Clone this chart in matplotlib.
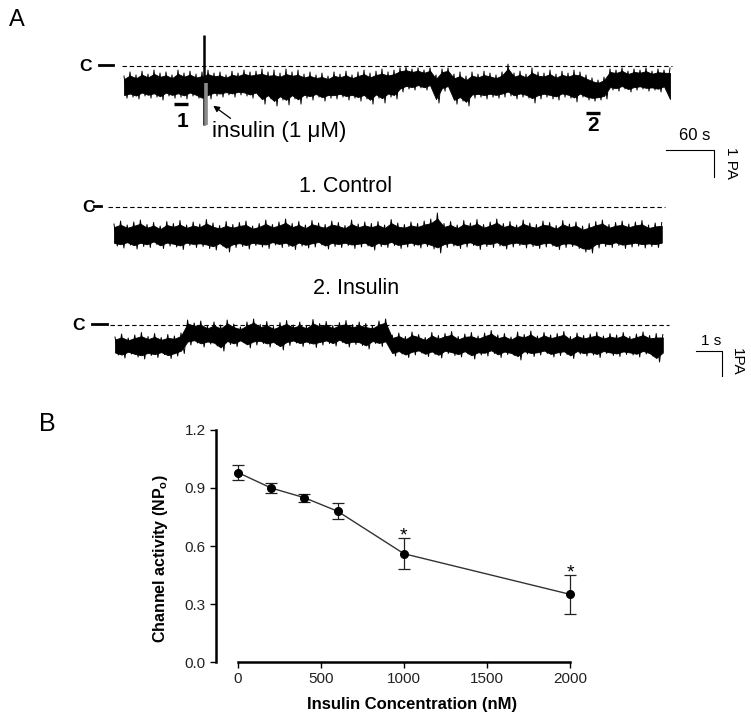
import numpy as np
import matplotlib
matplotlib.use("Agg")
import matplotlib.pyplot as plt

plt.rcParams['font.family'] = ['Liberation Sans', 'DejaVu Sans']
plt.rcParams['mathtext.fontset'] = 'custom'
plt.rcParams['mathtext.rm'] = 'Liberation Sans'
plt.rcParams['mathtext.bf'] = 'Liberation Sans:bold'

# ---- panel A: single channel records (pA, closed level = 0), envelope
# top record, one sample every 7.5 s: upper / lower edge of the trace
long_dt = 7.5
long_hi = [-0.37, -0.22, -0.33, -0.19, -0.30, -0.15, -0.26, -0.22, -0.33, -0.15, -0.26, -0.19, -0.30,
           -0.22, -0.15, -0.26, -0.22, -0.33, -0.19, -0.26, -0.15, -0.22, -0.19,
           -0.11, -0.22, -0.15, -0.26, -0.11, -0.22, -0.15,
           -0.30, -0.22, -0.33, -0.26, -0.37, -0.22, -0.30, -0.19, -0.33, -0.22, -0.15, -0.26, -0.19, -0.11, -0.22, -0.15,
           -0.07, -0.04, -0.11, -0.07,
           -0.15, -0.07, -0.33, -0.11, -0.07,
           -0.30, -0.22, -0.37, -0.22, -0.30, -0.19, -0.26, -0.33, -0.22,
           0.07,
           -0.26, -0.19, -0.30, -0.07, -0.22, -0.26, -0.15, -0.30, -0.19, -0.26, -0.15, -0.22, -0.33,
           -0.44, -0.52, -0.41,
           -0.11, -0.15, -0.07, -0.19, -0.11, -0.15, -0.07, -0.19, -0.11, -0.15, -0.07]
long_lo = [-1.19, -1.15, -1.22, -1.11, -1.19, -1.15, -1.26, -1.11, -1.19, -1.15, -1.22, -1.11, -1.19,
           -1.33, -1.22, -1.11, -1.15, -1.07, -1.15, -1.07, -1.11, -1.19, -1.11,
           -1.41, -1.22, -1.48, -1.26, -1.44, -1.22, -1.41,
           -1.19, -1.26, -1.15, -1.30, -1.19, -1.22, -1.15, -1.26, -1.19, -1.30, -1.22, -1.41, -1.19, -1.37, -1.15, -1.22,
           -0.96, -0.85, -0.89, -0.81,
           -0.89, -0.81, -1.37, -0.93, -0.85,
           -1.41, -1.30, -1.48, -1.19, -1.15, -1.22, -1.15, -1.19, -1.15,
           -1.11,
           -1.22, -1.15, -1.19, -1.37, -1.22, -1.15, -1.22, -1.26, -1.15, -1.19, -1.33, -1.15, -1.26,
           -1.30, -1.26, -1.22,
           -0.89, -0.93, -0.85, -0.96, -0.89, -0.85, -0.93, -0.89, -0.96, -0.85, -1.41]
insulin_t = 100.0          # s, application artefact
artefact = (1.15, -2.19)
artefact_wash = (-0.63, -2.19)

# expanded records, one sample every 0.25 s
short_dt = 0.25
ctrl_hi = [-0.68, -0.56, -0.72, -0.60, -0.52, -0.70, -0.62, -0.76, -0.58, -0.66,
           -0.54, -0.72, -0.60, -0.68, -0.50, -0.64, -0.74, -0.58, -0.70, -0.62,
           -0.56, -0.76, -0.66, -0.52, -0.70, -0.60, -0.48, -0.66, -0.58, -0.72,
           -0.54, -0.64, -0.70, -0.56, -0.62, -0.74, -0.52, -0.68, -0.60, -0.66,
           -0.58, -0.72, -0.50, -0.64, -0.70, -0.60, -0.66, -0.56, -0.48, -0.24,
           -0.66, -0.58, -0.72, -0.54, -0.64, -0.50, -0.70, -0.60, -0.48, -0.66,
           -0.58, -0.72, -0.52, -0.64, -0.70, -0.56, -0.62, -0.74, -0.54, -0.68,
           -0.60, -0.76, -0.66, -0.58, -0.52, -0.70, -0.62, -0.56, -0.68, -0.60,
           -0.54, -0.72, -0.64, -0.62]
ctrl_lo = [-1.56, -1.64, -1.52, -1.68, -1.58, -1.62, -1.50, -1.66, -1.56, -1.60,
           -1.70, -1.54, -1.62, -1.58, -1.66, -1.72, -1.56, -1.80, -1.62, -1.58,
           -1.68, -1.54, -1.60, -1.66, -1.52, -1.62, -1.58, -1.70, -1.56, -1.64,
           -1.60, -1.52, -1.68, -1.58, -1.62, -1.54, -1.66, -1.60, -1.56, -1.72,
           -1.58, -1.62, -1.54, -1.66, -1.60, -1.56, -1.64, -1.58, -1.68, -1.84,
           -1.62, -1.56, -1.66, -1.60, -1.54, -1.70, -1.58, -1.62, -1.56, -1.68,
           -1.60, -1.54, -1.64, -1.58, -1.66, -1.60, -1.56, -1.70, -1.62, -1.58,
           -1.66, -1.80, -1.84, -1.64, -1.58, -1.62, -1.54, -1.66, -1.60, -1.56,
           -1.64, -1.58, -1.62, -1.56]
ins_hi = [-0.48, -0.36, -0.52, -0.40, -0.30, -0.46, -0.34, -0.50, -0.38, -0.44,
          -0.32, 0.20, 0.08, 0.16, -0.04, 0.12, 0.00, 0.20, 0.04, -0.08,
          0.12, 0.24, 0.02, 0.14, -0.06, 0.10, 0.18, 0.00, 0.12, -0.04,
          0.22, 0.06, 0.14, -0.02, 0.10, 0.18, 0.02, 0.12, 0.06, -0.04,
          0.16, 0.24, -0.40, -0.32, -0.46, -0.28, -0.38, -0.50, -0.30, -0.42,
          -0.34, -0.26, -0.46, -0.36, -0.30, -0.44, -0.32, -0.22, -0.40, -0.34,
          -0.48, -0.28, -0.38, -0.24, -0.44, -0.30, -0.40, -0.34, -0.26, -0.46,
          -0.32, -0.42, -0.36, -0.28, -0.44, -0.34, -0.40, -0.30, -0.46, -0.36,
          -0.28, -0.42, -0.34, -0.38]
ins_lo = [-1.20, -1.32, -1.16, -1.28, -1.36, -1.22, -1.30, -1.18, -1.34, -1.24,
          -1.14, -0.80, -0.72, -0.88, -0.76, -0.84, -1.04, -0.78, -0.86, -0.70,
          -0.92, -0.80, -0.74, -0.88, -0.78, -1.00, -0.82, -0.72, -0.86, -0.76,
          -0.90, -0.80, -0.74, -0.84, -0.70, -0.88, -0.78, -0.82, -0.96, -0.74,
          -0.86, -0.80, -1.24, -1.16, -1.30, -1.20, -1.12, -1.26, -1.18, -1.32,
          -1.14, -1.22, -1.28, -1.16, -1.36, -1.20, -1.24, -1.14, -1.30, -1.18,
          -1.22, -1.40, -1.16, -1.26, -1.20, -1.14, -1.28, -1.22, -1.18, -1.34,
          -1.16, -1.24, -1.20, -1.30, -1.14, -1.22, -1.26, -1.18, -1.20, -1.28,
          -1.16, -1.24, -1.48, -1.22]

# ---- panel B: dose response
conc = [0, 200, 400, 600, 1000, 2000]
npo = [0.98, 0.90, 0.85, 0.78, 0.56, 0.35]
npo_sem = [0.04, 0.025, 0.02, 0.04, 0.08, 0.10]
signif = [False, False, False, False, True, True]


def draw_trace(ax, hi, lo, dt):
    hi = np.array(hi)
    lo = np.array(lo)
    t = np.arange(len(hi)) * dt
    # solid core of the record, the spiky edges come from the zigzag below
    span = lo - hi
    ax.fill_between(t, lo - 0.14 * span, hi + 0.14 * span, color='black', lw=0.6)
    tz = np.ravel(np.column_stack([t, t + dt / 2]))[:-1]
    yz = np.ravel(np.column_stack([hi, lo]))[:-1]
    ax.plot(tz, yz, color='black', lw=0.7)
    return t


def closed_line(ax, t0, t1, c_x, dash):
    ax.plot([t0, t1], [0, 0], color='black', lw=0.8, dashes=(4, 2.5))
    ax.text(c_x, 0, 'C', fontsize=12.5, fontweight='bold', ha='center', va='center')
    ax.plot(dash, [0.05, 0.05], color='black', lw=2)


fig = plt.figure(figsize=(7.51, 7.2), dpi=100)

# top (long) record
ax1 = fig.add_axes([60 / 751, 1 - 180 / 720, 691 / 751, 155 / 720])
ax1.set_xlim(-80, 783.75)
ax1.set_ylim(-4.222, 1.519)
ax1.axis('off')
draw_trace(ax1, long_hi, long_lo, long_dt)
closed_line(ax1, -2.5, 685, -47.5, [-31, -14])
ax1.plot([insulin_t, insulin_t], artefact, color='black', lw=1.8, solid_capstyle='butt')
ax1.plot([insulin_t + 3, insulin_t + 3], artefact_wash, color='#8a8a8a', lw=2.6, solid_capstyle='butt')
ax1.annotate('', xy=(108.75, -1.41), xytext=(136, -2.0),
             arrowprops=dict(arrowstyle='-|>', color='black', lw=0.9, mutation_scale=9))
ax1.text(110, -2.44, 'insulin (1 \u03bcM)', fontsize=16, ha='left', va='center')
ax1.plot([62.5, 80], [-1.39, -1.39], color='black', lw=2.4, solid_capstyle='butt')
ax1.text(72.5, -2.04, '1', fontsize=15, fontweight='bold', ha='center', va='center')
ax1.plot([577.5, 595], [-1.74, -1.74], color='black', lw=2.4, solid_capstyle='butt')
ax1.text(586, -2.22, '2', fontsize=15, fontweight='bold', ha='center', va='center')
# scale bar 60 s / 1 pA
ax1.plot([677.5, 737.5, 737.5], [-3.11, -3.11, -4.11], color='black', lw=0.8)
ax1.text(713.75, -2.59, '60 s', fontsize=12, ha='center', va='center')
ax1.text(758.75, -3.59, '1 PA', fontsize=11, ha='center', va='center', rotation=-90)

# control expanded
ax2 = fig.add_axes([60 / 751, 1 - 260 / 720, 691 / 751, 85 / 720])
ax2.set_xlim(-2.045, 24.13)
ax2.set_ylim(-2.12, 1.28)
ax2.axis('off')
draw_trace(ax2, ctrl_hi, ctrl_lo, short_dt)
closed_line(ax2, -0.23, 20.87, -0.95, [-0.76, -0.50])
ax2.text(8.79, 0.8, '1. Control', fontsize=15.5, ha='center', va='center')

# insulin expanded
ax3 = fig.add_axes([60 / 751, 1 - 385 / 720, 691 / 751, 105 / 720])
ax3.set_xlim(-2.083, 24.09)
ax3.set_ylim(-2.4, 1.8)
ax3.axis('off')
draw_trace(ax3, ins_hi, ins_lo, short_dt)
closed_line(ax3, -0.19, 21.0, -1.40, [-0.87, -0.30])
ax3.text(9.13, 1.44, '2. Insulin', fontsize=15.5, ha='center', va='center')
ax3.plot([22.0, 23.0, 23.0], [-1.04, -1.04, -2.04], color='black', lw=0.8)
ax3.text(22.58, -0.64, '1 s', fontsize=11, ha='center', va='center')
ax3.text(23.56, -1.48, '1PA', fontsize=11, ha='center', va='center', rotation=-90)

fig.text(0.012, 0.972, 'A', fontsize=17, ha='left', va='center')
fig.text(0.052, 0.411, 'B', fontsize=18, ha='left', va='center')

# panel B
axb = fig.add_axes([216 / 751, 1 - 662 / 720, 370.6 / 751, 232 / 720])
axb.errorbar(conc, npo, yerr=npo_sem, fmt='-o', color='#333333', mfc='black', mec='black',
             ms=5.5, lw=1.0, ecolor='#222222', elinewidth=0.9, capsize=4, capthick=0.9, clip_on=False)
for x, y, e, s in zip(conc, npo, npo_sem, signif):
    if s:
        axb.text(x, y + e - 0.012, '*', fontsize=14, ha='center', va='baseline')
axb.set_xlim(-132, 2100)
axb.set_ylim(0, 1.2)
axb.set_xticks([0, 500, 1000, 1500, 2000])
axb.set_yticks([0.0, 0.3, 0.6, 0.9, 1.2])
axb.set_yticklabels(['0.0', '0.3', '0.6', '0.9', '1.2'])
axb.spines['top'].set_visible(False)
axb.spines['right'].set_visible(False)
axb.spines['left'].set_linewidth(1.8)
axb.spines['bottom'].set_linewidth(1.8)
axb.spines['bottom'].set_bounds(0, 2000)
axb.tick_params(axis='both', labelsize=11, labelcolor='#222222', length=4, width=1)
axb.set_xlabel('Insulin Concentration (nM)', fontsize=12, fontweight='bold')
axb.set_ylabel('Channel activity (NP$_\\mathbf{o}$)', fontsize=11.5, fontweight='bold')
axb.xaxis.set_label_coords(0.53, -0.15)
axb.yaxis.set_label_coords(-0.125, 0.444)

fig.savefig('out.png', dpi=100)
